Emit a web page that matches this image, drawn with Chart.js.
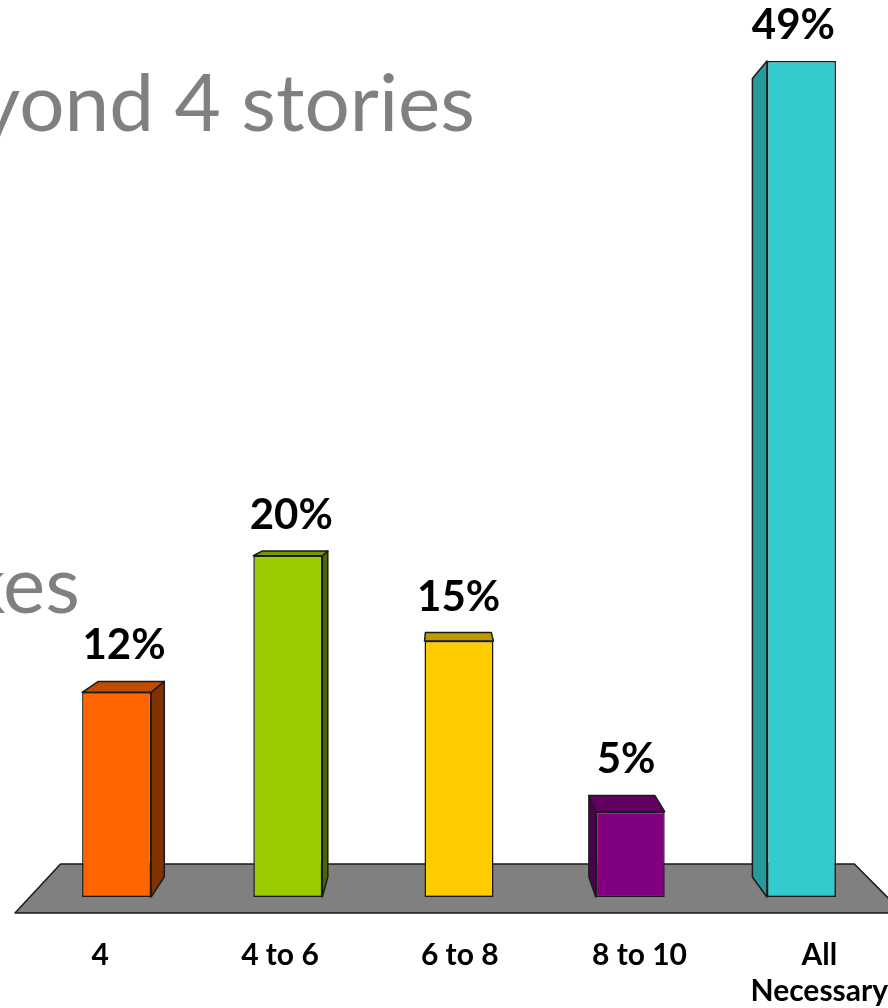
<!DOCTYPE html>
<html>
<head>
<meta charset="utf-8">
<style>
  html, body { margin: 0; padding: 0; background: #ffffff; overflow: hidden; }
  #wrap { position: relative; width: 888px; height: 1008px; }
</style>
<script src="https://cdn.jsdelivr.net/npm/chart.js@4.4.1/dist/chart.umd.min.js"></script>
</head>
<body>
<div id="wrap"><canvas id="c" width="888" height="1008"></canvas></div>
<script>
// Building heights considered, share of responses (%)
const categories = ['4', '4 to 6', '6 to 8', '8 to 10', ['All', 'Necessary']];
const shares = [12, 20, 15, 5, 49];

// Face colours for the extruded bars
const frontColors = ['#FF6600', '#99CC00', '#FFCC00', '#800080', '#33CCCC'];
const sideColors  = ['#803300', '#4D6600', '#806600', '#4D004D', '#269999'];
const topColors   = ['#BF4C00', '#739900', '#BF9900', '#600060', '#2EB8B8'];

// Slide title fragments sitting behind the chart
const backdropLines = ['yond 4 stories', 'kes'];

const LABEL_FONT = 'Lato, "Open Sans", sans-serif';
const DEPTH = 0.045;       // how far a bar's back face recedes toward the vanishing point
const FLOOR_DEPTH = 0.106; // how far the floor's back edge recedes

function vanishing(area) {
  return { x: area.left + 0.483 * area.width, y: area.top + 0.467 * area.height };
}
function recede(x, y, v, k) {
  return { x: x + k * (v.x - x), y: y + k * (v.y - y) };
}
function poly(ctx, pts, fill) {
  ctx.beginPath();
  ctx.moveTo(pts[0].x, pts[0].y);
  for (let i = 1; i < pts.length; i++) ctx.lineTo(pts[i].x, pts[i].y);
  ctx.closePath();
  ctx.fillStyle = fill;
  ctx.fill();
  ctx.stroke();
}

const backdropPlugin = {
  id: 'backdrop',
  beforeDraw(chart) {
    const ctx = chart.ctx;
    ctx.save();
    ctx.fillStyle = '#808080';
    ctx.font = '80px ' + LABEL_FONT;
    ctx.textAlign = 'right';
    ctx.textBaseline = 'alphabetic';
    ctx.fillText(backdropLines[0], 475, 131);
    ctx.fillText(backdropLines[1], 80, 613);
    ctx.restore();
  }
};

const floorAndDepthPlugin = {
  id: 'floorAndDepth',
  beforeDatasetsDraw(chart) {
    const ctx = chart.ctx;
    const area = chart.chartArea;
    const v = vanishing(area);
    ctx.save();
    ctx.strokeStyle = '#1a1a1a';
    ctx.lineWidth = 1.5;
    ctx.lineJoin = 'round';

    // floor plane
    const fy = area.bottom + 16;
    const fl = area.left - 16, fr = area.right + 16;
    const bl = recede(fl, fy, v, FLOOR_DEPTH);
    const br = recede(fr, fy, v, FLOOR_DEPTH);
    poly(ctx, [{ x: fl, y: fy }, bl, br, { x: fr, y: fy }], '#808080');

    // side and top faces of each bar
    const meta = chart.getDatasetMeta(0);
    meta.data.forEach((bar, i) => {
      const left = bar.x - bar.width / 2, right = bar.x + bar.width / 2;
      const top = bar.y, base = bar.base;
      if (right < v.x) {
        poly(ctx, [{ x: right, y: top }, recede(right, top, v, DEPTH),
                   recede(right, base, v, DEPTH), { x: right, y: base }], sideColors[i]);
      } else if (left > v.x) {
        poly(ctx, [{ x: left, y: top }, recede(left, top, v, DEPTH),
                   recede(left, base, v, DEPTH), { x: left, y: base }], sideColors[i]);
      }
      if (top > v.y) {
        poly(ctx, [{ x: left, y: top }, recede(left, top, v, DEPTH),
                   recede(right, top, v, DEPTH), { x: right, y: top }], topColors[i]);
      }
    });
    ctx.restore();
  },
  afterDatasetsDraw(chart) {
    const ctx = chart.ctx;
    const area = chart.chartArea;
    const v = vanishing(area);
    const meta = chart.getDatasetMeta(0);
    ctx.save();
    ctx.fillStyle = '#000000';
    ctx.textAlign = 'center';
    ctx.textBaseline = 'alphabetic';

    // value labels above the bars
    ctx.font = 'bold 42px ' + LABEL_FONT;
    meta.data.forEach((bar, i) => {
      const back = recede(bar.x, bar.y, v, DEPTH);
      const cx = bar.x + (back.x - bar.x) * 0.5;
      const y = Math.min(bar.y, back.y) - 22;
      ctx.fillText(shares[i] + '%', cx, y);
    });

    // category labels along the front of the floor
    ctx.font = 'bold 30px ' + LABEL_FONT;
    meta.data.forEach((bar, i) => {
      const lines = Array.isArray(categories[i]) ? categories[i] : [categories[i]];
      const cx = v.x + (bar.x - v.x) * 1.05;
      lines.forEach((t, j) => ctx.fillText(t, cx, area.bottom + 68 + j * 36));
    });
    ctx.restore();
  }
};

new Chart(document.getElementById('c'), {
  type: 'bar',
  data: {
    labels: categories,
    datasets: [{
      data: shares,
      backgroundColor: frontColors,
      borderColor: '#1a1a1a',
      borderWidth: 1.5,
      borderSkipped: false,
      barPercentage: 0.403,
      categoryPercentage: 1
    }]
  },
  options: {
    responsive: false,
    animation: false,
    layout: { padding: { left: 31, right: 1, top: 61, bottom: 111 } },
    plugins: { legend: { display: false }, tooltip: { enabled: false } },
    scales: {
      x: { display: false, offset: true },
      y: { display: false, min: 0, max: 49 }
    }
  },
  plugins: [backdropPlugin, floorAndDepthPlugin]
});
</script>
</body>
</html>
